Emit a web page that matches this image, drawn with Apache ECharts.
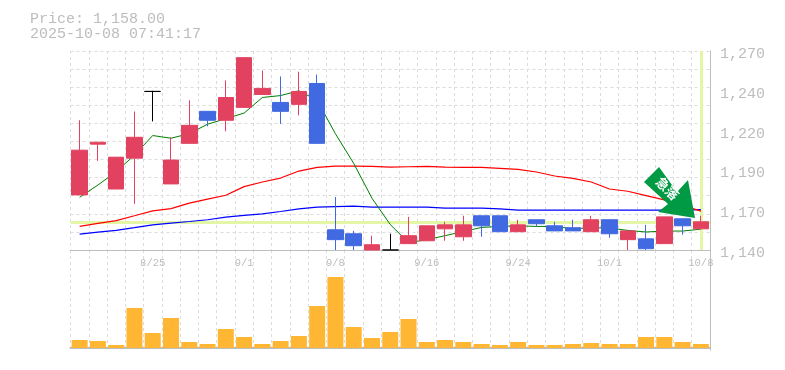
<!DOCTYPE html>
<html><head><meta charset="utf-8">
<style>html,body{margin:0;padding:0;background:#fff}#c{width:785px;height:370px}</style>
<script src="https://cdn.jsdelivr.net/npm/echarts@6/dist/echarts.min.js"></script>
</head><body><div id="c"></div>
<script>
const categories = ['8/19','8/20','8/21','8/22','8/25','8/26','8/27','8/28','8/29','9/1','9/2','9/3','9/4','9/5','9/8','9/9','9/10','9/11','9/12','9/16','9/17','9/18','9/19','9/22','9/24','9/25','9/26','9/29','9/30','10/1','10/2','10/3','10/6','10/7','10/8'];
const opens  = [1174.6,1206.5,1178.3,1197.7,1239.6,1181.5,1207,1227.1,1221.5,1229.6,1237.7,1232.7,1231.5,1244.6,1152.7,1150.2,1140,1140,1144,1145.8,1153.3,1148.3,1161.5,1161.5,1151.5,1159,1155.2,1154,1151.5,1159,1146.5,1147,1144,1159.6,1153.3];
const closes = [1202.7,1207.7,1198.3,1210.8,1239.6,1196.5,1218.3,1221.5,1235.8,1260.8,1241.5,1227.1,1239.6,1207,1146.5,1142.7,1143.3,1140,1149,1155.2,1155.8,1155.8,1155.2,1151.5,1155.8,1156.5,1152,1152,1159,1150.2,1152,1140.8,1160.8,1155.2,1157.7];
const lows   = [1174.6,1196,1178.3,1169,1220.8,1181.5,1207,1217.7,1214.6,1229.6,1237.7,1219.2,1224.6,1207,1140,1140,1140,1140,1144,1145.8,1145.8,1145.8,1148.3,1151.5,1151.5,1154.6,1152,1152,1151.5,1147.7,1140,1140,1144,1149.6,1153.3];
const highs  = [1221.5,1207.7,1198.3,1227,1240,1210.8,1234,1227.1,1246.5,1260.8,1252.7,1249,1252,1250.2,1173.3,1152,1149,1150.2,1160.8,1155.2,1157.7,1161.5,1161.5,1161.5,1159,1159,1157.7,1159,1161.5,1159,1152,1155.8,1160.8,1159.6,1161.5];
const ma5  = [1173.1,1180.8,1189.2,1199.6,1211.9,1210.2,1213.1,1219,1222.5,1226,1235.8,1237,1240,1234,1213,1194.4,1172.5,1156,1144.6,1146.5,1149,1151.6,1154.2,1154.8,1155.2,1154.8,1154.8,1153.3,1154,1153.8,1152.3,1151.3,1151.9,1151.9,1153.1];
const ma25 = [1154.8,1156.7,1158.5,1161.5,1164.6,1166,1169.4,1172,1174.4,1179.8,1182.7,1185.2,1189.6,1191.9,1192.7,1192.7,1192.5,1192,1192.3,1192.5,1192.1,1191.9,1191.9,1191.3,1190.6,1189,1186.5,1185,1182.7,1178.3,1176.9,1174.2,1171.5,1168,1164.4];
const ma75 = [1150,1151.2,1152.3,1154,1155.8,1156.9,1157.9,1159,1160.6,1161.7,1162.7,1164.2,1165.8,1166.9,1167.3,1167.5,1166.9,1166.9,1166.9,1166.9,1166.3,1166.3,1166.3,1165.8,1165,1165,1165,1165,1165,1165,1165,1165,1165,1165,1165.4];
const volumes = [8,7,3,40,15,30,6,4,19,11,4,7,12,42,71,21,10,16,29,6,8,6,4,3,6,3,3,4,5,4,4,11,11,6,4];
const priceTicks = ['1,140','1,170','1,190','1,220','1,240','1,270'];
const levelLine = 1157.4;
const headerLines = ['Price: 1,158.00','2025-10-08 07:41:17'];
const arrowText = '急落';

const GREY = '#bdbdbd', GRID = '#dcdcdc', MONO = '"Liberation Mono","DejaVu Sans Mono",monospace';
const dashed = {show:true, interval:0, lineStyle:{color:GRID, type:[3,3], width:1}};
const chart = echarts.init(document.getElementById('c'), null, {renderer:'canvas'});
chart.setOption({
  animation:false,
  backgroundColor:'#fff',
  grid:[
    {left:70.5,right:75,top:51,height:199},
    {left:70.5,right:75,top:250,height:100},
    {left:70.5,right:75,top:54,height:199}
  ],
  xAxis:[
    {type:'category',gridIndex:0,data:categories,boundaryGap:true,
     axisLine:{lineStyle:{color:GREY,width:1}},axisTick:{show:false},
     axisLabel:{show:true,interval:i=>i%5===4,color:GREY,fontFamily:MONO,fontSize:10.5,margin:8,hideOverlap:false,showMaxLabel:true},
     splitLine:dashed},
    {type:'category',gridIndex:1,data:categories,boundaryGap:true,
     axisLine:{lineStyle:{color:GREY,width:2}},axisTick:{show:false},axisLabel:{show:false},
     splitLine:dashed},
    {type:'category',gridIndex:2,data:categories,show:false}
  ],
  yAxis:[
    {type:'value',gridIndex:0,position:'left',min:1140,max:1265,interval:25,
     axisLine:{show:false},axisTick:{show:false},splitLine:{show:false},axisLabel:{show:false}},
    {type:'value',gridIndex:0,position:'right',min:1140,max:1265,interval:25,
     axisLine:{show:true,lineStyle:{color:GREY,width:1}},axisTick:{show:false},splitLine:{show:false},axisLabel:{show:false}},
    {type:'value',gridIndex:0,position:'left',min:0,max:11,interval:1,
     axisLine:{show:false},axisTick:{show:false},axisLabel:{show:false},
     splitLine:{show:true,lineStyle:{color:GRID,type:[3,3],width:1}}},
    {type:'value',gridIndex:1,position:'right',min:-2,max:98,
     axisLine:{show:true,lineStyle:{color:GREY,width:1}},axisTick:{show:false},axisLabel:{show:false},splitLine:{show:false}},
    {type:'value',gridIndex:2,position:'right',min:1140,max:1265,interval:25,
     axisLine:{show:false},axisTick:{show:false},splitLine:{show:false},
     axisLabel:{color:GREY,fontFamily:MONO,fontSize:15,margin:10,
       formatter:v=>priceTicks[Math.round((v-1140)/25)]}}
  ],
  series:[
    {name:'MA75',type:'line',xAxisIndex:0,yAxisIndex:0,data:ma75,symbol:'none',z:3,silent:true,
     lineStyle:{color:'#0000ff',width:1.2},
     markLine:{silent:true,symbol:'none',z:2,animation:false,label:{show:false},
       lineStyle:{color:'#e2f6a6',width:3,type:'solid'},
       data:[{yAxis:levelLine},{xAxis:categories.length-1}]}},
    {name:'MA25',type:'line',xAxisIndex:0,yAxisIndex:0,data:ma25,symbol:'none',z:3,silent:true,lineStyle:{color:'#ff0000',width:1.2}},
    {name:'MA5',type:'line',xAxisIndex:0,yAxisIndex:0,data:ma5,symbol:'none',z:3,silent:true,lineStyle:{color:'#008000',width:1}},
    {name:'Price',type:'candlestick',xAxisIndex:0,yAxisIndex:0,z:5,barWidth:16,silent:true,
     data:categories.map((_,i)=>[opens[i],closes[i],lows[i],highs[i]]),
     itemStyle:{color:'#e2425f',color0:'#4169e1',borderColor:'#e2425f',borderColor0:'#4169e1',borderColorDoji:'#000000',borderWidth:1}},
    {name:'Volume',type:'bar',xAxisIndex:1,yAxisIndex:3,data:volumes,barWidth:16,silent:true,itemStyle:{color:'#ffb733'}}
  ],
  graphic:[
    {type:'text',left:30,top:12,silent:true,style:{text:headerLines[0],fill:GREY,font:'15px '+MONO}},
    {type:'text',left:30,top:27,silent:true,style:{text:headerLines[1],fill:GREY,font:'15px '+MONO}},
    {type:'polygon',z:100,silent:true,shape:{points:[[659,167],[644,182],[668,204],[658,212],[695,218],[688,180],[677,192]]},style:{fill:'#009944'}},
    {type:'text',z:101,silent:true,x:667.5,y:188.5,rotation:-Math.PI/4,
     style:{text:arrowText,fill:'#fff',font:'bold 13px "Noto Sans CJK JP"',align:'center',verticalAlign:'middle'}}
  ]
});
</script></body></html>
